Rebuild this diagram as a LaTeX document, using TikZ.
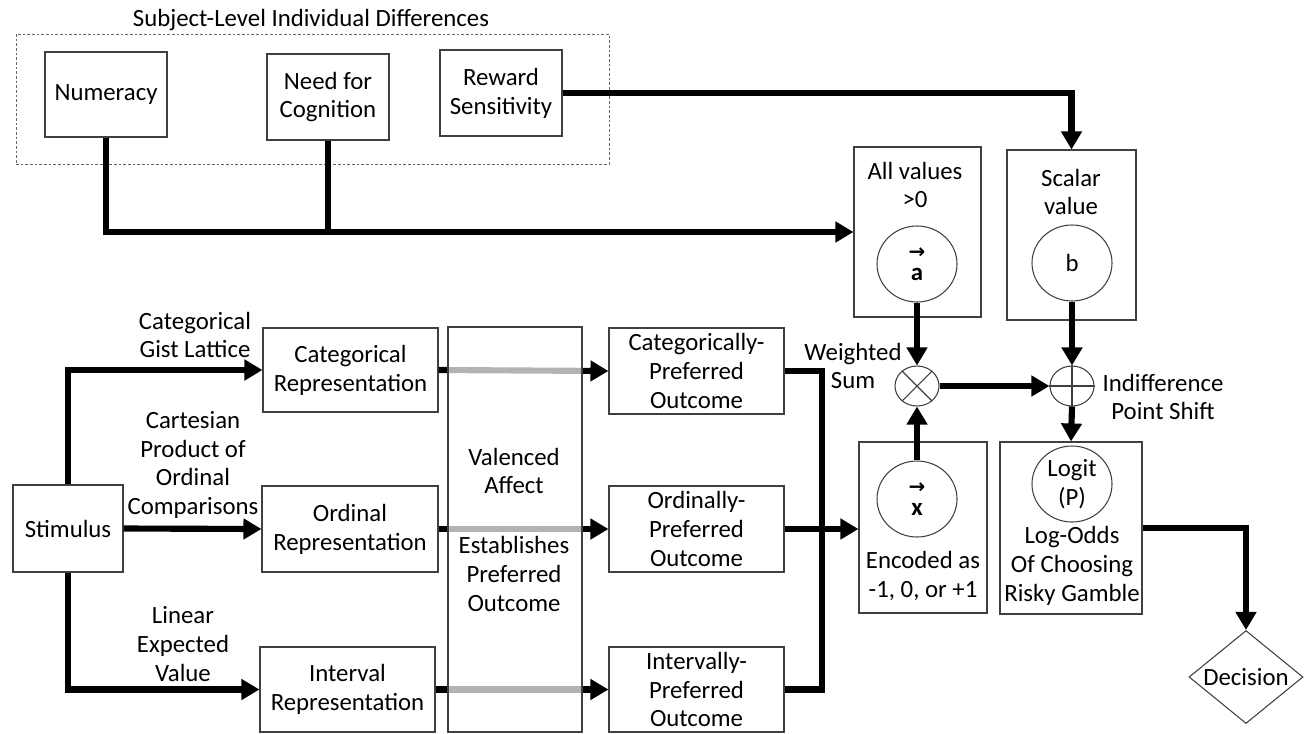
\documentclass[tikz,border=0pt]{standalone}
\usepackage{fontspec}
\setmainfont{Carlito}
\newfontfamily\arrowfont{DejaVu Sans}
\usetikzlibrary{shapes.geometric,arrows.meta}
\newcommand{\dfont}{\fontsize{18.6}{21.6}\selectfont}
\newcommand{\vecarrow}[1]{{\arrowfont\bfseries\fontsize{15}{15}\selectfont →}\\[-5pt]\textbf{#1}}
\begin{document}
\begin{tikzpicture}[x=0.75pt,y=-0.75pt,
  box/.style={draw=black!75, line width=0.8pt, inner sep=0pt, align=center, font=\dfont},
  sz/.style 2 args={minimum width=0.75*#1pt, minimum height=0.75*#2pt},
  grpbox/.style={draw=black!60, line width=0.7pt, dash pattern=on 2pt off 1.5pt, inner sep=0pt},
  lab/.style={align=center, font=\dfont, inner sep=0pt},
  oval/.style={ellipse, draw=black!75, line width=0.8pt, minimum width=60pt, minimum height=57pt, inner sep=0pt, align=center, font=\dfont},
  opnode/.style={ellipse, draw=black!75, line width=0.8pt, minimum width=33pt, minimum height=30pt, inner sep=0pt},
  wire/.style={line width=4.6pt},
  arr/.style={line width=4.6pt, -{Triangle[length=13.5pt,width=15pt]}},
  thinline/.style={draw=black!75, line width=0.8pt}
]
\useasboundingbox (0,0) rectangle (1306,733);

% group of individual differences
\node[lab] (title) at (311,20) {Subject-Level Individual Differences};
\node[grpbox, sz={593}{130}] (grp) at (312.5,99) {};
\node[box, sz={122}{85}] (num) at (106,94.5) {Numeracy};
\node[box, sz={122}{86}] (nfc) at (328,97) {Need for\\Cognition};
\node[box, sz={122}{86}] (rew) at (501,93) {Reward\\Sensitivity};

% parameter boxes
\node[box, sz={127}{170}] (allv) at (917.5,232) {};
\node[lab] (allvt) at (915,185) {All values\\>0};
\node[oval] (acirc) at (917,264) {\vecarrow{a}};
\node[box, sz={129}{170}] (scal) at (1071.5,235) {};
\node[lab] (scalt) at (1071,192) {Scalar\\value};
\node[oval] (bcirc) at (1072,263) {b};

% operators
\node[opnode] (ot) at (917,386) {};
\draw[thinline] (ot.45) -- (ot.225) (ot.135) -- (ot.315);
\node[opnode] (opl) at (1072,386) {};
\draw[thinline] (opl.north) -- (opl.south) (opl.west) -- (opl.east);
\node[lab] (wsum) at (853,366) {Weighted\\Sum};
\node[lab] (ips) at (1163,397) {Indifference\\Point Shift};

% x box and logit box
\node[box, sz={128}{171}] (xbox) at (923,527.5) {};
\node[oval] (xcirc) at (917,499) {\vecarrow{x}};
\node[lab] (xt) at (923,576) {Encoded as\\-1, 0, or +1};
\node[box, sz={142}{172}] (lbox) at (1071,528) {};
\node[oval] (lcirc) at (1072,484) {Logit\\(P)};
\node[lab] (lt) at (1072,566) {Log-Odds\\Of Choosing\\Risky Gamble};

\node[diamond, draw=black!75, line width=0.8pt, aspect=1.23, inner sep=0pt,
      minimum width=85.5pt, minimum height=69.75pt, font=\dfont] (dec) at (1246,677) {Decision};

% stimulus and representations
\node[box, sz={110}{87}] (stim) at (68,528.5) {Stimulus};
\node[box, sz={175}{84}] (catrep) at (350.5,370) {Categorical\\Representation};
\node[box, sz={176}{86}] (ordrep) at (350,529) {Ordinal\\Representation};
\node[box, sz={175}{85}] (intrep) at (347.5,689.5) {Interval\\Representation};
\node[box, sz={175}{86}] (catpref) at (696.5,371) {Categorically-\\Preferred\\Outcome};
\node[box, sz={175}{86}] (ordpref) at (696.5,529) {Ordinally-\\Preferred\\Outcome};
\node[box, sz={175}{85}] (intpref) at (696.5,689.5) {Intervally-\\Preferred\\Outcome};

\node[lab] (l1) at (195,335) {Categorical\\Gist Lattice};
\node[lab] (l2) at (193,465) {Cartesian\\Product of\\Ordinal\\Comparisons};
\node[lab] (l3) at (183,644) {Linear\\Expected\\Value};

% connectors
\draw[arr] (num.south) |- (allv.west);
\draw[wire] (nfc.south) -- (nfc.south |- allv.west);
\draw[arr] (rew.east) -| (scal.north);
\draw[arr] (acirc.south) -- (ot.north);
\draw[arr] (bcirc.south) -- (opl.north);
\draw[arr] (xcirc.north) -- (ot.south);
\draw[arr] (ot.east) -- (opl.west);
\draw[arr] (opl.south) -- (lbox.north);
\draw[arr] (lbox.east) -| (dec.north);

\draw[arr] (stim.north) |- (catrep.west);
\draw[arr] (stim.east) -- (ordrep.west);
\draw[arr] (stim.south) |- (intrep.west);

\draw[arr] (catrep.east) -- (catpref.west);
\draw[arr] (ordrep.east) -- (ordpref.west);
\draw[arr] (intrep.east) -- (intpref.west);

\coordinate (bus) at (822,529);
\draw[wire] (catpref.east) -| (bus |- intpref.east) -- (intpref.east);
\draw[arr] (ordpref.east) -- (ordpref.east -| xbox.west);

% valenced affect box (lines show through in grey)
\node[box, sz={134}{405}, fill=white, fill opacity=0.7] (val) at (515,529.5) {};
\node[lab] (valt1) at (514,471) {Valenced\\Affect};
\node[lab] (valt2) at (514,574) {Establishes\\Preferred\\Outcome};
\end{tikzpicture}
\end{document}
